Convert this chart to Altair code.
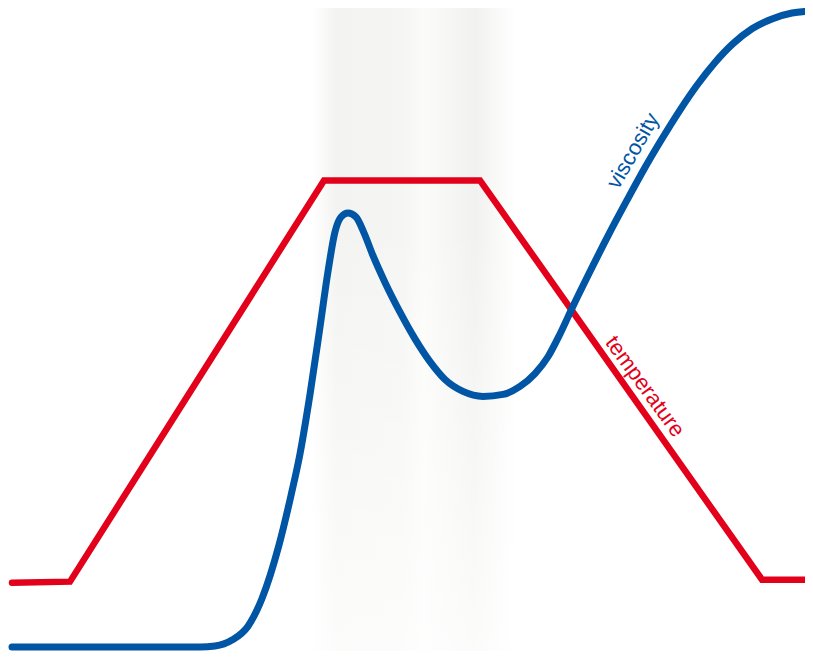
import altair as alt
import pandas as pd

# Values; x = time position, y = level (height above bottom)
temp_x = [12, 70, 324, 480, 762, 813]
temp_y = [71, 72, 477, 477, 74, 74]

visc_x = [12, 200, 215, 232, 248, 262, 279, 291, 300, 310, 320, 328, 335, 341, 348, 356,
          364, 373, 385, 400, 415, 430, 445, 463, 483, 503, 520, 535, 548, 560, 573, 590,
          608, 627, 645, 662, 680, 697, 715, 733, 752, 772, 792, 813]
visc_py = [653, 653, 652, 646, 632, 604, 550, 500, 458, 398, 330, 274, 234, 219, 215, 219,
           235, 258, 285, 315, 342, 365, 383, 395, 400, 398, 390, 377, 360, 337, 309, 274,
           238, 202, 169, 140, 111, 86, 63, 44, 29, 19, 13, 11]
visc_y = [659 - v for v in visc_py]

label_text = ["viscosity", "temperature"]
label_x = [633, 645]
label_y = [659 - 152, 659 - 390]
label_angle = [300, 54]
label_color = ["#0055A4", "#E2001A"]

glow_x = [312]
glow_x2 = [515]
fade_top = [440]   # level where the background glow starts fading out

temp_df = pd.DataFrame({"x": temp_x, "y": temp_y})
visc_df = pd.DataFrame({"x": visc_x, "y": visc_y})
lab_df = pd.DataFrame({"text": label_text, "x": label_x, "y": label_y,
                       "angle": label_angle, "color": label_color})
glow_df = pd.DataFrame({"x": glow_x, "x2": glow_x2, "top": fade_top})

xs = alt.Scale(domain=[8, 805], nice=False, zero=False)
ys = alt.Scale(domain=[2, 651], nice=False, zero=False)


def X(f="x"):
    return alt.X(f, type="quantitative", scale=xs, axis=None)


def Y(f="y"):
    return alt.Y(f, type="quantitative", scale=ys, axis=None)


glow = alt.Chart(glow_df).mark_rect(
    color=alt.Gradient(
        gradient="linear", x1=0, x2=1, y1=0, y2=0,
        stops=[alt.GradientStop(color="#ffffff", offset=0),
               alt.GradientStop(color="#f3f3f1", offset=0.12),
               alt.GradientStop(color="#f5f5f3", offset=0.45),
               alt.GradientStop(color="#fbfbfa", offset=0.55),
               alt.GradientStop(color="#f1f1ef", offset=0.8),
               alt.GradientStop(color="#ffffff", offset=1)]),
).encode(x=X(), x2="x2", y=alt.value(0), y2=alt.value(643))

fade = alt.Chart(glow_df).mark_rect(
    color=alt.Gradient(
        gradient="linear", x1=0, x2=0, y1=0, y2=1,
        stops=[alt.GradientStop(color="rgba(255,255,255,0)", offset=0),
               alt.GradientStop(color="rgba(255,255,255,0.75)", offset=1)]),
).encode(x=X(), x2="x2", y=alt.Y("top:Q", scale=ys, axis=None), y2=alt.value(643))

temp = alt.Chart(temp_df).mark_line(
    color="#E2001A", strokeWidth=6.5, strokeCap="round", strokeJoin="miter", clip=False
).encode(x=X(), y=Y())

visc = alt.Chart(visc_df).mark_line(
    color="#0055A4", strokeWidth=7, strokeCap="round", interpolate="monotone", clip=False
).encode(x=X(), y=Y())

labels = alt.Chart(lab_df).mark_text(
    font="Liberation Sans", fontSize=22, align="center", baseline="middle"
).encode(
    x=X(), y=Y(), text="text:N",
    angle=alt.Angle("angle:Q", scale=None),
    color=alt.Color("color:N", scale=None),
)

chart = alt.layer(glow, fade, temp, visc, labels).properties(
    width=797, height=643, padding=0, autosize=alt.AutoSizeParams(type="none")
).configure_view(stroke=None)

chart.save("out.html", embed_options={"renderer": "svg", "actions": False})
